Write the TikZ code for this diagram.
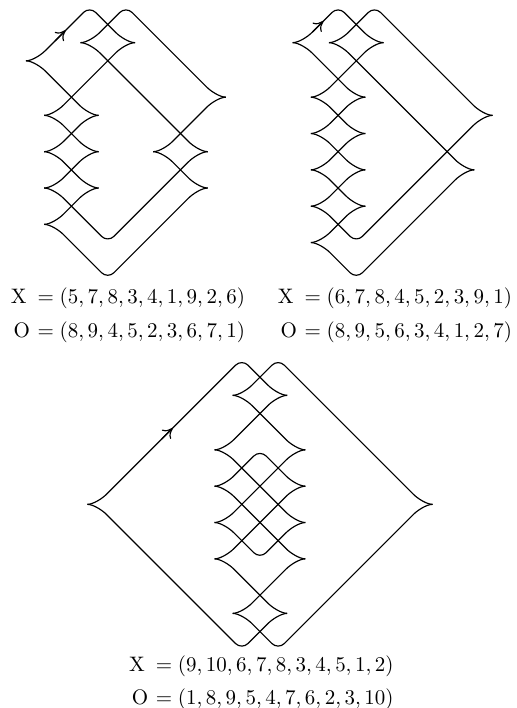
\documentclass[tikz,border=0pt]{standalone}
\usetikzlibrary{arrows.meta}
\newlength{\pxu}\setlength{\pxu}{0.4697pt}
\newlength{\gru}\setlength{\gru}{18.17\pxu}
\tikzset{
  knot/.style={line width=0.55pt,line join=round},
  orient/.style={knot,-{Computer Modern Rightarrow[length=4.4pt,width=6pt,line width=0.55pt]}},
  gridscope/.style={x=\gru,y=-\gru},
  lab/.style={anchor=base east,inner sep=0pt,outer sep=0pt,scale=.985}
}
% strand: left cusp, leaving direction (+1 down, -1 up), corners, right cusp, arrival direction
\newcommand{\strandlr}[7][]{%
  \draw[knot] (#2,#3) .. controls +(.33,0) and +(-.22,{-(#4)*.22}) .. ({#2+1.05},{#3+(#4)*.55}) #5
   -- ({#6-1.05},{#7-(\sarr)*.55}) .. controls +(.22,{(\sarr)*.22}) and +(-.33,0) .. (#6,#7);}
\newcommand{\sd}{\def\sarr{1}}
\newcommand{\su}{\def\sarr{-1}}
\newcommand{\tp}[2]{-- ({#1-.34},{#2+.34}) .. controls +(.188,-.188) and +(-.188,-.188) .. ({#1+.34},{#2+.34})}
\newcommand{\bt}[2]{-- ({#1-.34},{#2-.34}) .. controls +(.188,.188) and +(-.188,.188) .. ({#1+.34},{#2-.34})}
\newcommand{\xeq}{\mathrm{X}\kern2.5pt=}
\newcommand{\oeq}{\mathrm{O}\kern.9pt=}
\begin{document}
\begin{tikzpicture}[x=\pxu,y=-\pxu]
\useasboundingbox (0,0) rectangle (516,708);
% --- first diagram
\begin{scope}[shift={(26,42.67)},gridscope]
\sd\strandlr{0}{1}{-1}{\tp{3.5}{-2}}{6}{0}
\sd\strandlr{0}{1}{1}{}{4}{4}
\sd\strandlr{3}{0}{-1}{\tp{5.5}{-2}}{11}{3}
\sd\strandlr{3}{0}{1}{}{10}{6}
\su\strandlr{1}{4}{-1}{}{6}{0}
\sd\strandlr{1}{4}{1}{}{4}{6}
\su\strandlr{1}{6}{-1}{}{4}{4}
\sd\strandlr{1}{6}{1}{}{4}{8}
\su\strandlr{1}{8}{-1}{}{4}{6}
\su\strandlr{1}{8}{1}{\bt{4.5}{11}}{10}{6}
\su\strandlr{1}{10}{-1}{}{4}{8}
\su\strandlr{1}{10}{1}{\bt{4.5}{13}}{10}{8}
\su\strandlr{7}{6}{-1}{}{11}{3}
\sd\strandlr{7}{6}{1}{}{10}{8}
\draw[orient] (1.6,-.1) -- (2.18,-.68);
\end{scope}
% --- second diagram
\begin{scope}[shift={(292.67,42.67)},gridscope]
\sd\strandlr{0}{0}{-1}{\tp{2.5}{-2}}{5}{0}
\sd\strandlr{0}{0}{1}{}{4}{3}
\sd\strandlr{2}{0}{-1}{\tp{4.5}{-2}}{11}{4}
\sd\strandlr{2}{0}{1}{}{10}{7}
\su\strandlr{1}{3}{-1}{}{5}{0}
\sd\strandlr{1}{3}{1}{}{4}{5}
\su\strandlr{1}{5}{-1}{}{4}{3}
\sd\strandlr{1}{5}{1}{}{4}{7}
\su\strandlr{1}{7}{-1}{}{4}{5}
\sd\strandlr{1}{7}{1}{}{4}{9}
\su\strandlr{1}{9}{-1}{}{4}{7}
\su\strandlr{1}{9}{1}{\bt{3.5}{11}}{11}{4}
\su\strandlr{1}{11}{-1}{}{4}{9}
\su\strandlr{1}{11}{1}{\bt{3.5}{13}}{10}{7}
\draw[orient] (1.1,-.6) -- (1.69,-1.19);
\end{scope}
% --- third diagram
\begin{scope}[shift={(87.33,395.33)},gridscope]
\sd\strandlr{0}{6}{-1}{\tp{8.5}{-2}}{11}{0}
\su\strandlr{0}{6}{1}{\bt{8.5}{14}}{11}{12}
\sd\strandlr{8}{0}{-1}{\tp{10.5}{-2}}{19}{6}
\sd\strandlr{8}{0}{1}{}{12}{3}
\su\strandlr{7}{3}{-1}{}{11}{0}
\sd\strandlr{7}{3}{1}{}{12}{7}
\su\strandlr{7}{7}{-1}{}{12}{3}
\su\strandlr{7}{7}{1}{\bt{9.5}{9}}{12}{7}
\sd\strandlr{7}{5}{-1}{\tp{9.5}{3}}{12}{5}
\sd\strandlr{7}{5}{1}{}{12}{9}
\su\strandlr{7}{9}{-1}{}{12}{5}
\sd\strandlr{7}{9}{1}{}{11}{12}
\su\strandlr{8}{12}{-1}{}{12}{9}
\su\strandlr{8}{12}{1}{\bt{10.5}{14}}{19}{6}
\draw[orient] (4.1,2.4) -- (4.7,1.8);
\end{scope}
% --- labels
\node[lab] (x1) at (245,303.5) {$\xeq(5,7,8,3,4,1,9,2,6)$};
\node[lab] (o1) at (245,337) {$\oeq(8,9,4,5,2,3,6,7,1)$};
\node[lab] (x2) at (512,303.5) {$\xeq(6,7,8,4,5,2,3,9,1)$};
\node[lab] (o2) at (512,337) {$\oeq(8,9,5,6,3,4,1,2,7)$};
\node[lab] (x3) at (393.5,671) {$\xeq(9,10,6,7,8,3,4,5,1,2)$};
\node[lab] (o3) at (393.5,704) {$\oeq(1,8,9,5,4,7,6,2,3,10)$};
\end{tikzpicture}
\end{document}
